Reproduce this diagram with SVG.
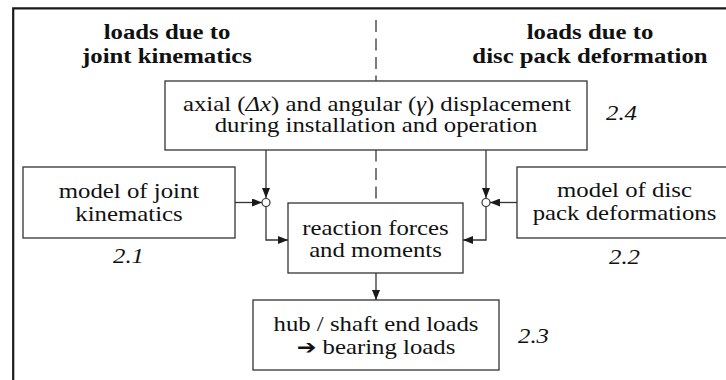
<svg xmlns="http://www.w3.org/2000/svg" width="726" height="380" viewBox="0 0 726 380">
  <style>
    .frame { fill: none; stroke: #1a1a1a; stroke-width: 2.2; }
    .box { fill: #ffffff; stroke: #333333; stroke-width: 1.3; }
    .wire { fill: none; stroke: #333333; stroke-width: 1.3; }
    .divider { fill: none; stroke: #444444; stroke-width: 1.4; stroke-dasharray: 12 6.5; }
    .junction { fill: #ffffff; stroke: #333333; stroke-width: 1.2; }
    text { font-family: "Liberation Serif", "Times New Roman", serif; fill: #111111; text-anchor: middle; }
    .head { font-size: 21px; font-weight: bold; }
    .lbl { font-size: 21px; }
    .num { font-size: 21px; font-style: italic; }
    .glyph { font-family: "DejaVu Sans", sans-serif; font-weight: bold; font-size: 20px; }
  </style>
  <defs>
    <marker id="arrow" viewBox="0 0 10 8" refX="10" refY="4" markerWidth="10" markerHeight="8" markerUnits="userSpaceOnUse" orient="auto">
      <path d="M0,0 L10,4 L0,8 Z" fill="#1a1a1a"/>
    </marker>
  </defs>

  <!-- outer frame (top and left edges) -->
  <path class="frame" d="M13.2,380 L13.2,8.3 L726,8.3"/>

  <!-- dashed divider between the two load groups -->
  <line class="divider" x1="376" y1="20" x2="376" y2="203"/>

  <!-- column headings -->
  <g id="heading-left">
    <text class="head" transform="translate(167 39) scale(1.18 1)">loads due to</text>
    <text class="head" transform="translate(167 63) scale(1.18 1)">joint kinematics</text>
  </g>
  <g id="heading-right">
    <text class="head" transform="translate(590 39) scale(1.18 1)">loads due to</text>
    <text class="head" transform="translate(590 63) scale(1.18 1)">disc pack deformation</text>
  </g>

  <!-- connectors -->
  <g id="connectors">
    <line class="wire" x1="266" y1="150" x2="266" y2="198" marker-end="url(#arrow)"/>
    <line class="wire" x1="486" y1="150" x2="486" y2="198" marker-end="url(#arrow)"/>
    <line class="wire" x1="235" y1="202.5" x2="262" y2="202.5" marker-end="url(#arrow)"/>
    <line class="wire" x1="517" y1="202.5" x2="490" y2="202.5" marker-end="url(#arrow)"/>
    <polyline class="wire" points="266,206.5 266,240 288,240" marker-end="url(#arrow)"/>
    <polyline class="wire" points="486,206.5 486,240 463,240" marker-end="url(#arrow)"/>
    <line class="wire" x1="376" y1="273" x2="376" y2="300" marker-end="url(#arrow)"/>
    <circle class="junction" cx="266" cy="202.5" r="4"/>
    <circle class="junction" cx="486" cy="202.5" r="4"/>
  </g>

  <!-- 2.4 displacement input -->
  <g id="node-displacement">
    <rect class="box" x="165" y="81" width="422" height="69"/>
    <text class="lbl" transform="translate(377 110.5) scale(1.18 1)">axial (<tspan font-style="italic">Δx</tspan>) and angular (<tspan font-style="italic">γ</tspan>) displacement</text>
    <text class="lbl" transform="translate(376 132) scale(1.18 1)">during installation and operation</text>
    <text class="num" transform="translate(621.5 120) scale(1.18 1)">2.4</text>
  </g>

  <!-- 2.1 joint kinematics model -->
  <g id="node-kinematics">
    <rect class="box" x="23" y="167" width="212" height="71"/>
    <text class="lbl" transform="translate(129 198) scale(1.18 1)">model of joint</text>
    <text class="lbl" transform="translate(129 221) scale(1.18 1)">kinematics</text>
    <text class="num" transform="translate(128.5 263) scale(1.18 1)">2.1</text>
  </g>

  <!-- 2.2 disc pack deformation model -->
  <g id="node-discpack">
    <rect class="box" x="517" y="167" width="215" height="71"/>
    <text class="lbl" transform="translate(624.5 197) scale(1.18 1)">model of disc</text>
    <text class="lbl" transform="translate(624.5 220) scale(1.18 1)">pack deformations</text>
    <text class="num" transform="translate(624.5 264) scale(1.18 1)">2.2</text>
  </g>

  <!-- reaction forces and moments -->
  <g id="node-reaction">
    <rect class="box" x="288" y="203" width="175" height="70"/>
    <text class="lbl" transform="translate(375.5 235) scale(1.18 1)">reaction forces</text>
    <text class="lbl" transform="translate(375.5 257) scale(1.18 1)">and moments</text>
  </g>

  <!-- 2.3 resulting loads -->
  <g id="node-loads">
    <rect class="box" x="253" y="300" width="246" height="70"/>
    <text class="lbl" transform="translate(376 331) scale(1.18 1)">hub / shaft end loads</text>
    <text class="lbl" transform="translate(376 354) scale(1.18 1)"><tspan class="glyph">➔</tspan> bearing loads</text>
    <text class="num" transform="translate(533.5 343) scale(1.18 1)">2.3</text>
  </g>
</svg>
